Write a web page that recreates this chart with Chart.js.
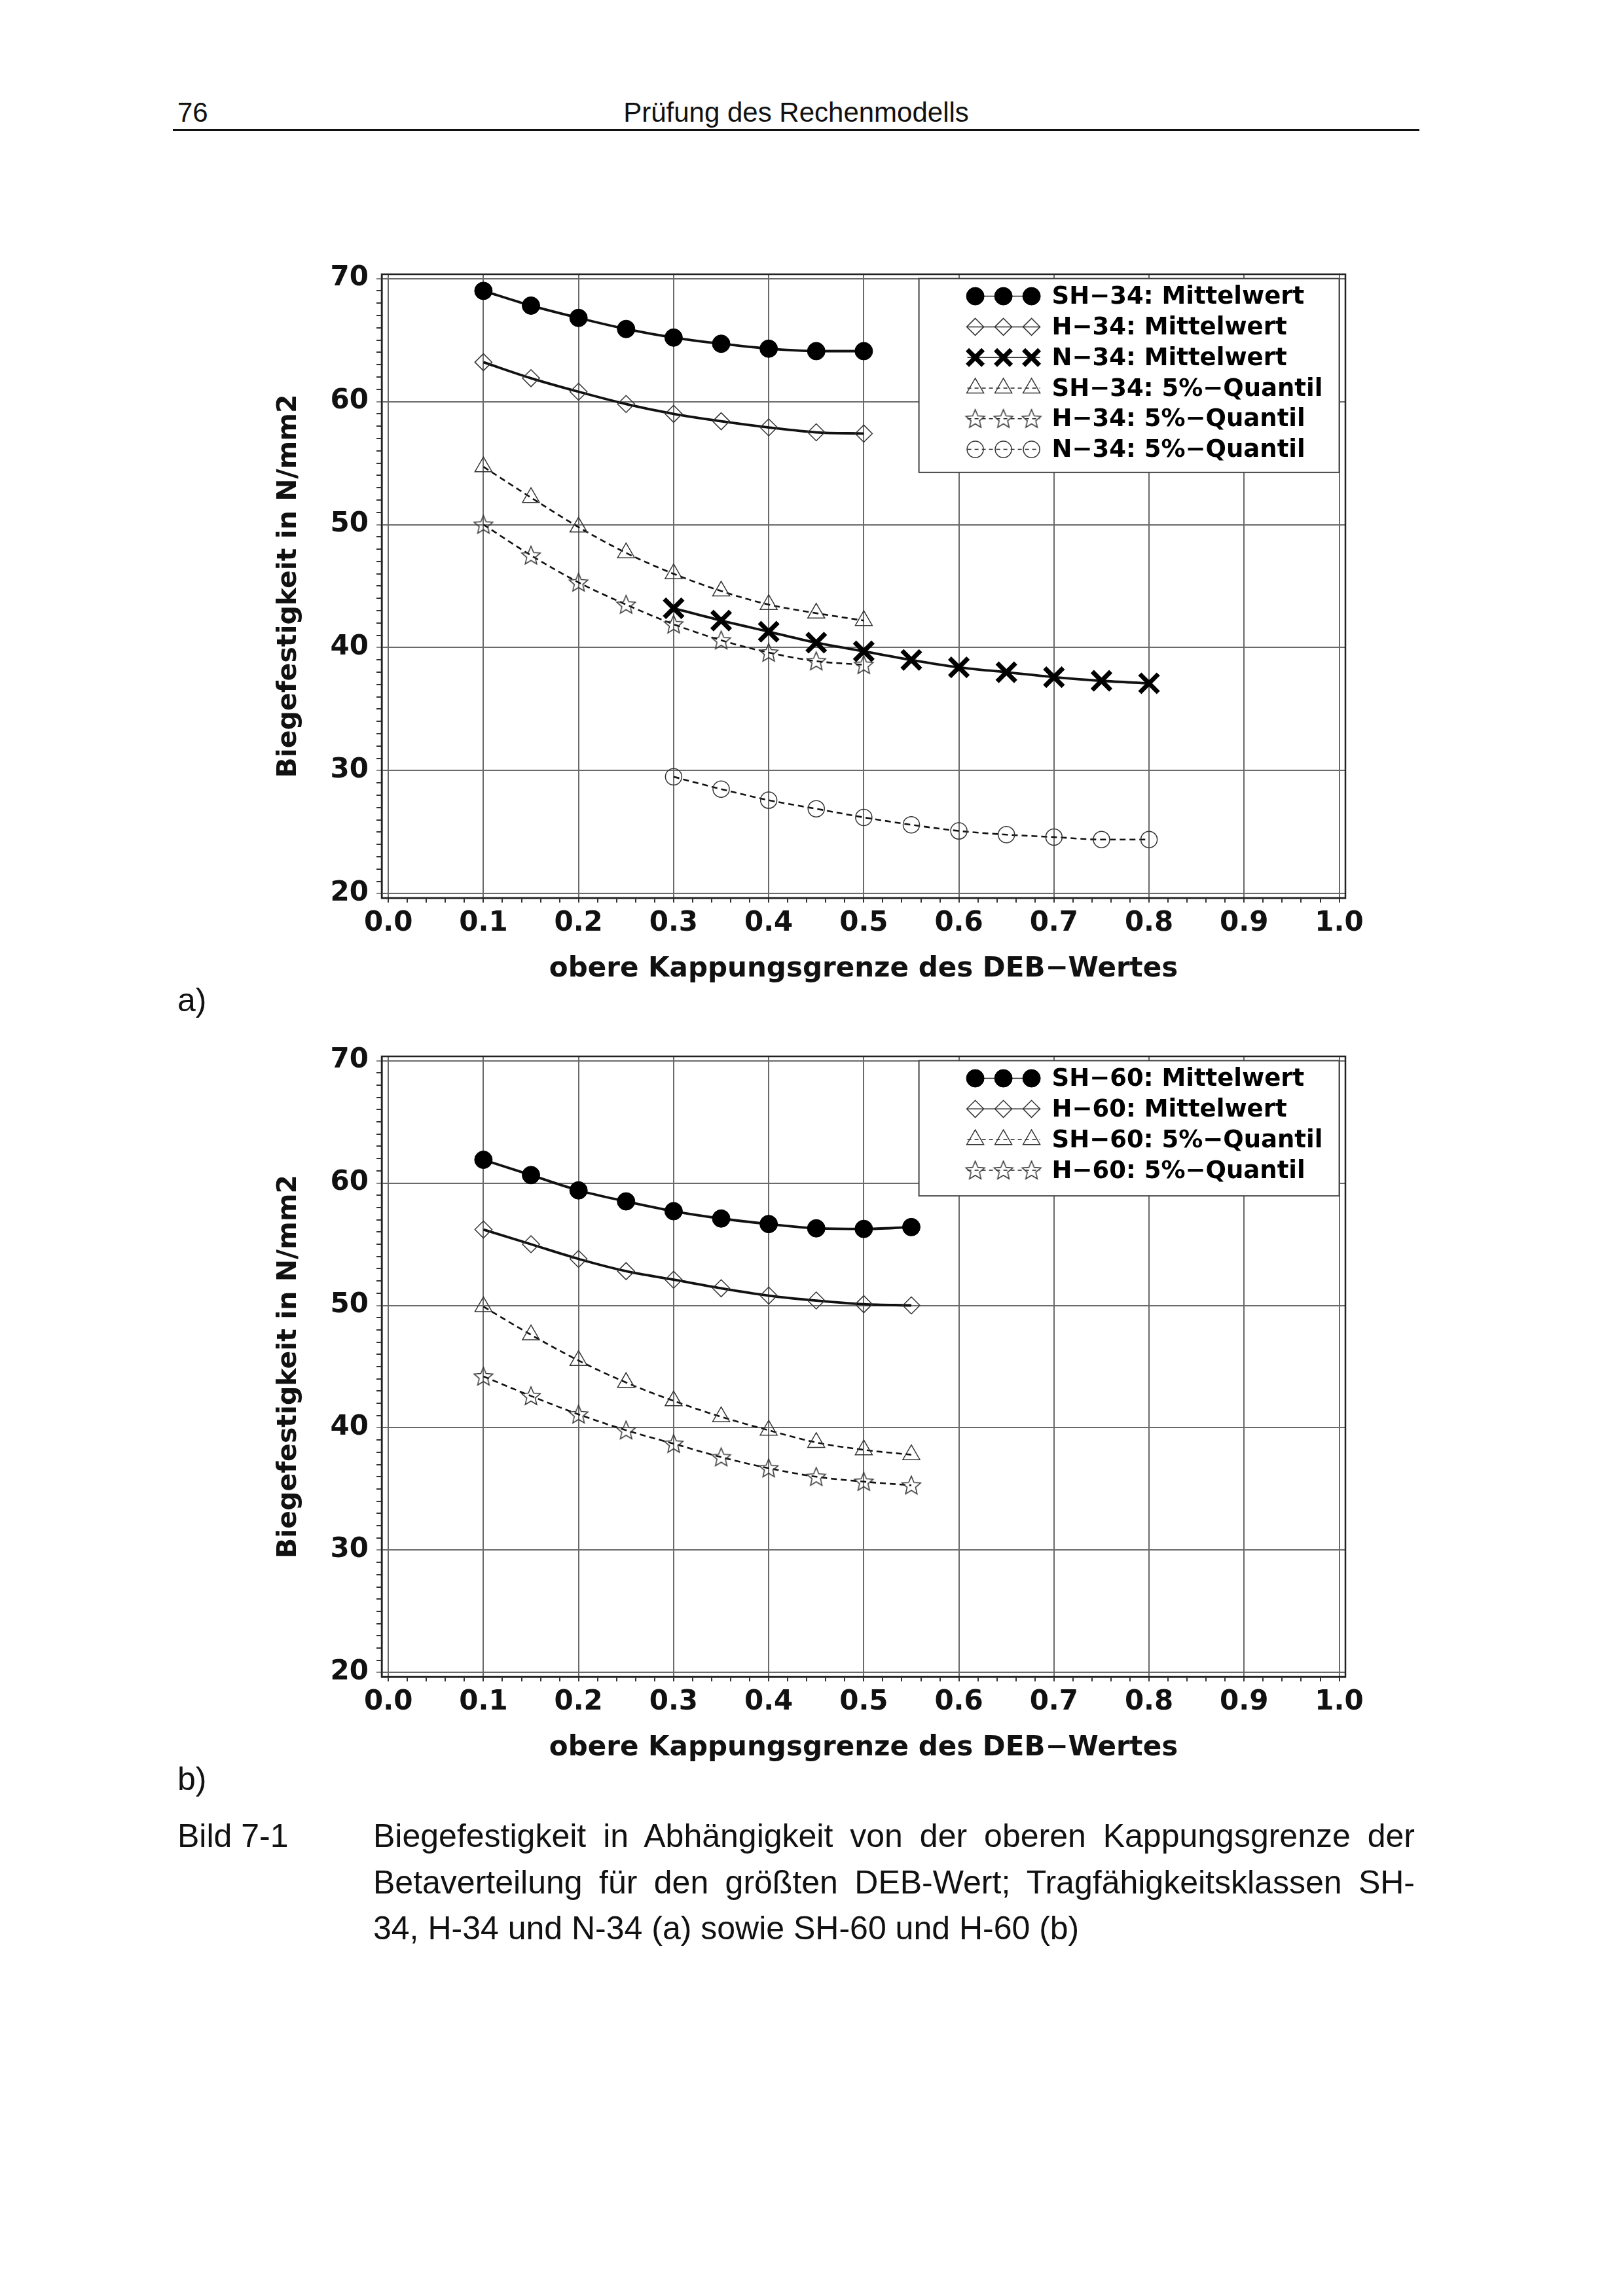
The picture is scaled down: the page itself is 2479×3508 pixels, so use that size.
<!DOCTYPE html>
<html>
<head>
<meta charset="utf-8">
<script src="https://cdn.jsdelivr.net/npm/chart.js@4.4.0/dist/chart.umd.min.js"></script>
<style>
  body { margin: 0; background: #fff; width: 2479px; height: 3508px; position: relative;
         font-family: 'Liberation Sans', Arial, Helvetica, sans-serif; color: #111; }
  .t { position: absolute; white-space: nowrap; line-height: 1; }
  canvas { position: absolute; }
</style>
</head>
<body>
<div class="t" style="left:271px;top:151px;font-size:42px">76</div>
<div class="t" style="left:264px;width:1904px;top:151px;font-size:42px;text-align:center">Prüfung des Rechenmodells</div>
<div style="position:absolute;left:264px;top:197px;width:1904px;height:3px;background:#111"></div>

<canvas id="chartA" width="1850" height="1180" style="left:250px;top:360px"></canvas>
<div class="t" style="left:271px;top:1503px;font-size:50px">a)</div>

<canvas id="chartB" width="1850" height="1175" style="left:250px;top:1555px"></canvas>
<div class="t" style="left:271px;top:2693px;font-size:50px">b)</div>

<div class="t" style="left:271px;top:2770px;font-size:50px;line-height:70.5px">Bild 7-1</div>
<div style="position:absolute;left:570px;top:2770px;width:1591px;font-size:50px;line-height:70.5px;text-align:justify">Biegefestigkeit in Abhängigkeit von der oberen Kappungsgrenze der Betaverteilung für den größten DEB-Wert; Tragfähigkeitsklassen SH-34, H-34 und N-34 (a) sowie SH-60 und H-60 (b)</div>

<script>
// upper cut-off of the DEB value (x)
const kappA = [0.1, 0.15, 0.2, 0.25, 0.3, 0.35, 0.4, 0.45, 0.5];
const kappN = [0.3, 0.35, 0.4, 0.45, 0.5, 0.55, 0.6, 0.65, 0.7, 0.75, 0.8];
const kappB = [0.1, 0.15, 0.2, 0.25, 0.3, 0.35, 0.4, 0.45, 0.5, 0.55];

// chart a) - class 34
const sh34Mean = [69.0, 67.8, 66.8, 65.9, 65.2, 64.7, 64.3, 64.1, 64.1];
const h34Mean  = [63.2, 61.9, 60.8, 59.8, 59.0, 58.4, 57.9, 57.5, 57.4];
const n34Mean  = [43.2, 42.2, 41.3, 40.4, 39.7, 39.0, 38.4, 38.0, 37.6, 37.3, 37.1];
const sh34Q5   = [54.7, 52.2, 49.8, 47.7, 46.0, 44.6, 43.5, 42.8, 42.2];
const h34Q5    = [50.0, 47.5, 45.3, 43.5, 41.9, 40.6, 39.6, 38.9, 38.6];
const n34Q5    = [29.5, 28.5, 27.6, 26.9, 26.2, 25.6, 25.1, 24.8, 24.6, 24.4, 24.4];

// chart b) - class 60
const sh60Mean = [61.9, 60.65, 59.4, 58.5, 57.7, 57.1, 56.65, 56.3, 56.25, 56.4];
const h60Mean  = [56.2, 55.0, 53.8, 52.8, 52.1, 51.4, 50.8, 50.4, 50.1, 50.0];
const sh60Q5   = [49.9, 47.6, 45.5, 43.7, 42.2, 40.9, 39.8, 38.8, 38.2, 37.8];
const h60Q5    = [44.2, 42.6, 41.1, 39.8, 38.7, 37.6, 36.7, 36.0, 35.6, 35.3];

const labelsA = ['SH−34: Mittelwert', 'H−34: Mittelwert', 'N−34: Mittelwert',
                 'SH−34: 5%−Quantil', 'H−34: 5%−Quantil', 'N−34: 5%−Quantil'];
const labelsB = ['SH−60: Mittelwert', 'H−60: Mittelwert', 'SH−60: 5%−Quantil', 'H−60: 5%−Quantil'];
const xTitle = 'obere Kappungsgrenze des DEB−Wertes';
const yTitle = 'Biegefestigkeit in N/mm2';

const FONT = "'DejaVu Sans', 'Liberation Sans', sans-serif";

function starImage(r) {
  const c = document.createElement('canvas');
  const s = Math.ceil(2 * r + 6);
  c.width = c.height = s;
  const g = c.getContext('2d');
  g.beginPath();
  for (let i = 0; i < 10; i++) {
    const rr = i % 2 ? r * 0.45 : r;
    const a = -Math.PI / 2 + i * Math.PI / 5;
    g.lineTo(s / 2 + rr * Math.cos(a), s / 2 + 1 + rr * Math.sin(a));
  }
  g.closePath();
  g.lineWidth = 1.5;
  g.strokeStyle = '#333';
  g.stroke();
  return c;
}

const none = 'rgba(0,0,0,0)';
const solid = { borderWidth: 3.8, borderDash: [] };
const dashed = { borderWidth: 2.6, borderDash: [9, 6] };
const dot = { pointStyle: 'circle', pointRadius: 13.5, pointBackgroundColor: '#000', pointBorderColor: '#000', pointBorderWidth: 1 };
const diamond = { pointStyle: 'rectRot', pointRadius: 13, pointBackgroundColor: none, pointBorderColor: '#333', pointBorderWidth: 1.5 };
const cross = { pointStyle: 'crossRot', pointRadius: 20, pointBackgroundColor: none, pointBorderColor: '#000', pointBorderWidth: 7 };
const tri = { pointStyle: 'triangle', pointRadius: 15, pointBackgroundColor: none, pointBorderColor: '#333', pointBorderWidth: 1.5 };
const star = { pointStyle: starImage(15), pointRadius: 15, pointBackgroundColor: none, pointBorderColor: '#333', pointBorderWidth: 1.5 };
const ring = { pointStyle: 'circle', pointRadius: 12.5, pointBackgroundColor: none, pointBorderColor: '#333', pointBorderWidth: 1.5 };

function series(label, xs, ys, line, marker) {
  return Object.assign({
    label: label,
    data: xs.map((x, i) => ({ x: x, y: ys[i] })),
    borderColor: '#111',
    backgroundColor: none,
    fill: false,
    cubicInterpolationMode: 'monotone'
  }, line, marker);
}

const frame = {
  id: 'frame',
  afterDatasetsDraw(chart) {
    const { ctx, chartArea: a } = chart;
    ctx.save();
    ctx.strokeStyle = '#222';
    ctx.lineWidth = 2.5;
    ctx.strokeRect(a.left, a.top, a.right - a.left, a.bottom - a.top);
    ctx.restore();
  }
};

const boxLegend = {
  id: 'boxLegend',
  afterDatasetsDraw(chart, args, opts) {
    const { ctx } = chart;
    const x = chart.scales.x, y = chart.scales.y;
    const l = x.getPixelForValue(opts.x0), r = x.getPixelForValue(1);
    const t = y.getPixelForValue(70), b = y.getPixelForValue(opts.yBottom);
    ctx.save();
    ctx.fillStyle = '#fff';
    ctx.fillRect(l, t, r - l, b - t);
    ctx.strokeStyle = '#444';
    ctx.lineWidth = 2;
    ctx.strokeRect(l, t, r - l, b - t);
    chart.data.datasets.forEach((ds, i) => {
      const cy = t + opts.firstRow + i * opts.rowGap;
      ctx.setLineDash(ds.borderDash.length ? [6, 5] : []);
      ctx.lineWidth = 1.5;
      ctx.strokeStyle = '#222';
      ctx.beginPath();
      ctx.moveTo(l + 74, cy);
      ctx.lineTo(l + 185, cy);
      ctx.stroke();
      ctx.setLineDash([]);
      [86, 129, 172].forEach(dx => {
        ctx.fillStyle = ds.pointBackgroundColor;
        ctx.strokeStyle = ds.pointBorderColor;
        ctx.lineWidth = ds.pointBorderWidth;
        Chart.helpers.drawPoint(ctx, {
          pointStyle: ds.pointStyle, radius: Math.min(ds.pointRadius, 17), rotation: 0, borderWidth: ds.pointBorderWidth
        }, l + dx, cy);
      });
      ctx.fillStyle = '#000';
      ctx.font = 'bold 37px ' + FONT;
      ctx.textAlign = 'left';
      ctx.textBaseline = 'middle';
      ctx.fillText(ds.label, l + 203, cy + 2);
    });
    ctx.restore();
  }
};

function options(legendOpts) {
  const tickFont = { family: FONT, size: 42, weight: 'bold' };
  return {
    responsive: false,
    animation: false,
    devicePixelRatio: 1,
    layout: { padding: { top: 59, right: 45, left: 0, bottom: 0 } },
    plugins: { legend: { display: false }, tooltip: { enabled: false }, boxLegend: legendOpts },
    scales: {
      x: {
        type: 'linear', min: -0.007, max: 1.0065,
        afterBuildTicks: s => { s.ticks = Array.from({ length: 51 }, (_, i) => ({ value: i / 50 })); },
        afterFit: s => { s.height = 168; },
        ticks: {
          autoSkip: false, maxRotation: 0, minRotation: 0, padding: 7, color: '#111', font: tickFont,
          callback: (v, i) => i % 5 === 0 ? (i / 50).toFixed(1) : ''
        },
        grid: {
          color: c => (c.tick && Math.round(c.tick.value * 50) % 5 === 0) ? '#6a6a6a' : none,
          lineWidth: 2, tickColor: '#333', tickLength: 7, tickWidth: 2
        },
        border: { display: true, color: '#222', width: 2.5 },
        title: { display: true, text: xTitle, color: '#111', font: { family: FONT, size: 42, weight: 'bold' }, padding: { top: 0, bottom: 34 } }
      },
      y: {
        type: 'linear', min: 19.65, max: 70.35,
        afterBuildTicks: s => { s.ticks = Array.from({ length: 51 }, (_, i) => ({ value: 20 + i })); },
        afterFit: s => { s.width = 333; },
        ticks: {
          autoSkip: false, padding: 12, color: '#111', font: tickFont,
          callback: v => Math.round(v) % 10 === 0 ? String(Math.round(v)) : ''
        },
        grid: {
          color: c => (c.tick && Math.round(c.tick.value) % 10 === 0) ? '#6a6a6a' : none,
          tickColor: c => (c.tick && Math.round(c.tick.value) % 10 === 0) ? '#888' : '#333',
          lineWidth: 2, tickLength: 8, tickWidth: 2
        },
        border: { display: true, color: '#222', width: 2.5 },
        title: { display: true, text: yTitle, color: '#111', font: { family: FONT, size: 41, weight: 'bold' }, padding: { top: 167, bottom: 0 } }
      }
    }
  };
}

new Chart(document.getElementById('chartA'), {
  type: 'line',
  data: {
    datasets: [
      series(labelsA[0], kappA, sh34Mean, solid, dot),
      series(labelsA[1], kappA, h34Mean, solid, diamond),
      series(labelsA[2], kappN, n34Mean, solid, cross),
      series(labelsA[3], kappA, sh34Q5, dashed, tri),
      series(labelsA[4], kappA, h34Q5, dashed, star),
      series(labelsA[5], kappN, n34Q5, dashed, ring)
    ]
  },
  options: options({ x0: 0.558, yBottom: 54.24, firstRow: 27, rowGap: 46.8 }),
  plugins: [frame, boxLegend]
});

new Chart(document.getElementById('chartB'), {
  type: 'line',
  data: {
    datasets: [
      series(labelsB[0], kappB, sh60Mean, solid, dot),
      series(labelsB[1], kappB, h60Mean, solid, diamond),
      series(labelsB[2], kappB, sh60Q5, dashed, tri),
      series(labelsB[3], kappB, h60Q5, dashed, star)
    ]
  },
  options: options({ x0: 0.558, yBottom: 58.95, firstRow: 27, rowGap: 46.8 }),
  plugins: [frame, boxLegend]
});
</script>
</body>
</html>
